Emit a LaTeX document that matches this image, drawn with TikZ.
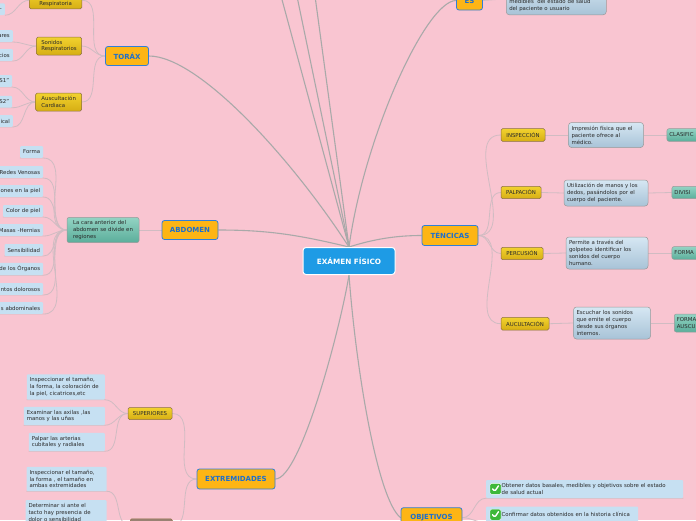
\documentclass[tikz,border=0pt]{standalone}
\usepackage{fontspec}
\setmainfont{DejaVu Sans}
\usepackage{tikz}
\usetikzlibrary{backgrounds}
\definecolor{bgpink}{HTML}{F9C5D1}
\definecolor{rootblue}{HTML}{1E9BE5}
\definecolor{topicor}{HTML}{FDB515}
\definecolor{topicbd}{HTML}{2F7FD8}
\definecolor{topictx}{HTML}{1E6FCC}
\definecolor{goldtop}{HTML}{F2D22E}
\definecolor{goldbot}{HTML}{D6AE14}
\definecolor{goldbd}{HTML}{8B6F45}
\definecolor{leafbl}{HTML}{C6E0F2}
\definecolor{notetop}{HTML}{D6E7F3}
\definecolor{notebot}{HTML}{A8C3D7}
\definecolor{tealtop}{HTML}{93D3C3}
\definecolor{tealbot}{HTML}{5BAE9B}
\definecolor{inkgray}{HTML}{2A2A2A}
\definecolor{linemain}{HTML}{A9A9A9}
\definecolor{linesub}{HTML}{D0BCC2}
\definecolor{chkgreen}{HTML}{3DB83A}
\definecolor{brownbox}{HTML}{9A8273}
\newcommand\smallfs{\fontsize{5.4}{6.9}\selectfont}
\newcommand\chkgap{\hspace*{14pt}}

\begin{document}
\begin{tikzpicture}[x=1pt,y=1pt,
  rootnode/.style={fill=rootblue,draw=white,line width=1pt,rounded corners=3pt,text=white,
    font=\bfseries\fontsize{7.3}{9}\selectfont,minimum width=92,minimum height=27,inner sep=2pt},
  topicnode/.style={fill=topicor,draw=topicbd,line width=0.8pt,rounded corners=2.5pt,text=topictx,
    font=\bfseries\fontsize{7}{8}\selectfont,minimum height=19,inner sep=2pt},
  subnode/.style={top color=goldtop,bottom color=goldbot,draw=goldbd,line width=0.5pt,
    rounded corners=1.5pt,text=inkgray,font=\smallfs,inner sep=2.5pt},
  leafnode/.style={fill=leafbl,rounded corners=1pt,text=inkgray,font=\smallfs,minimum height=11.7,inner sep=3pt},
  notenode/.style={top color=notetop,bottom color=notebot,draw=gray!80,line width=0.5pt,
    rounded corners=3pt,text=inkgray,font=\smallfs,align=left,inner sep=3pt},
  regnode/.style={top color=tealtop,bottom color=tealbot,draw=gray!80,line width=0.5pt,
    rounded corners=2pt,text=inkgray,font=\smallfs,inner sep=3pt},
  mainline/.style={draw=linemain,line width=1.1pt},
  subline/.style={draw=linesub,line width=0.8pt},
  chkicon/.style={fill=chkgreen,draw=white,line width=0.4pt,rounded corners=1.5pt,minimum size=11,inner sep=0pt,
    path picture={\draw[white,line width=1.4pt,line cap=round,line join=round]
      ([shift={(-3pt,0pt)}]path picture bounding box.center) -- ([shift={(-0.8pt,-2.6pt)}]path picture bounding box.center)
      -- ([shift={(3pt,3pt)}]path picture bounding box.center);}}]
  \useasboundingbox (0,0) rectangle (696,-520);
  \clip (0,0) rectangle (696,-520);

  % centre
  \node[rootnode] (cen) at (349,-261) {EXÁMEN FÍSICO};

  % main topics
  \node[topicnode,minimum width=43] (torax) at (127,-56) {TORÁX};
  \node[topicnode,minimum width=56] (abd) at (190,-230) {ABDOMEN};
  \node[topicnode,minimum width=78,minimum height=20] (ext) at (236,-479) {EXTREMIDADES};
  \node[topicnode,minimum width=56,minimum height=20] (tec) at (450,-235.5) {TÉNCICAS};
  \node[topicnode,minimum width=26] (es) at (469.5,-0.5) {ES};
  \node[topicnode,minimum width=61,minimum height=20] (obj) at (431.5,-517.7) {OBJETIVOS};
  \coordinate (up1) at (255,100);
  \coordinate (up2) at (277,100);
  \coordinate (up3) at (302,100);

  % torax
  \node[subnode,anchor=south west,minimum width=52.7,align=left] (resp) at (29,-9) {\phantom{X}\\Respiratoria};
  \node[subnode,minimum width=45,minimum height=18,align=left] (son) at (59,-46) {Sonidos\\Respiratorios};
  \node[subnode,minimum width=46,minimum height=18,align=left] (aus) at (58.7,-102) {Auscultación\\Cardiaca};
  \node[leafnode,anchor=east,text width=30,align=right] (t0) at (5,-9.2) {-};
  \node[leafnode,anchor=east,text width=40,align=right] (t1) at (13,-36) {ares};
  \node[leafnode,anchor=east,text width=40,align=right] (t2) at (13,-55) {cios};
  \node[leafnode,anchor=east,text width=40,align=right] (t3) at (12.3,-81) {S1"};
  \node[leafnode,anchor=east,text width=40,align=right] (t4) at (12.3,-101.7) {S2"};
  \node[leafnode,anchor=east,text width=40,align=right] (t5) at (13,-121) {ical};

  % abdomen
  \node[regnode,minimum width=72,minimum height=25,align=left] (reg) at (103,-230) {La cara anterior del\\abdomen se divide en\\regiones};
  \node[leafnode,anchor=east] (a1) at (43.3,-152) {Forma};
  \node[leafnode,anchor=east] (a2) at (43.3,-172) {Redes Venosas};
  \node[leafnode,anchor=east,text width=60,align=right] (a3) at (43.3,-191) {ones en la piel};
  \node[leafnode,anchor=east] (a4) at (43.3,-211) {Color de piel};
  \node[leafnode,anchor=east,text width=60,align=right] (a5) at (43.3,-230) {Masas -Hernias};
  \node[leafnode,anchor=east] (a6) at (43.3,-250) {Sensibilidad};
  \node[leafnode,anchor=east,text width=60,align=right] (a7) at (43.3,-269) {de los Órganos};
  \node[leafnode,anchor=east,text width=60,align=right] (a8) at (43.3,-289) {ntos dolorosos};
  \node[leafnode,anchor=east,text width=60,align=right] (a9) at (43.3,-308) {s abdominales};

  % extremidades
  \node[subnode,minimum width=44,minimum height=12] (sup) at (150,-413.5) {SUPERIORES};
  \node[draw=goldbd,fill=brownbox,line width=0.5pt,rounded corners=1.5pt,minimum width=42,minimum height=14,anchor=north west] (inf) at (130,-518.5) {};
  \node[leafnode,anchor=east,text width=72,minimum height=24,align=left] (s1) at (105,-387) {Inspeccionar el tamaño,\\la forma, la coloración de\\la piel, cicatrices,etc};
  \node[leafnode,anchor=east,text width=75,minimum height=18,align=left] (s2) at (105,-416) {Examinar las axilas ,las\\manos y las uñas};
  \node[leafnode,anchor=east,text width=70,minimum height=18,align=left] (s3) at (105,-442) {Palpar las arterias\\cubitales y radiales};
  \node[leafnode,anchor=east,text width=74,minimum height=23,align=left] (i1) at (106.7,-479) {Inspeccionar el tamaño,\\la forma , el tamaño en\\ambas extremidades};
  \node[leafnode,anchor=north east,text width=75,minimum height=24,align=left] (i2) at (106.7,-500) {Determinar si ante el\\tacto hay presencia de\\dolor o sensibilidad};

  % tecnicas
  \node[subnode,minimum width=44,minimum height=12.6] (insp) at (523,-135) {INSPECCIÓN};
  \node[subnode,minimum width=40,minimum height=12.4] (palp) at (521,-192.5) {PALPACIÓN};
  \node[subnode,minimum width=42,minimum height=12.4] (perc) at (522,-253.5) {PERCUSIÓN};
  \node[subnode,minimum width=48,minimum height=12.7] (aucu) at (525,-323.7) {AUCULTACIÓN};
  \node[notenode,text width=69,minimum height=25] (n1) at (606,-135) {Impresión física que el\\paciente ofrece al\\médico.};
  \node[notenode,text width=78,minimum height=26] (n2) at (606,-193) {Utilización de manos y los\\dedos, pasándolos por el\\cuerpo del paciente.};
  \node[notenode,text width=76,minimum height=32] (n3) at (607,-253) {Permite a través del\\golpeteo identificar los\\sonidos del cuerpo\\humano.};
  \node[notenode,text width=71,minimum height=32] (n4) at (612,-323) {Escuchar los sonidos\\que emite el cuerpo\\desde sus órganos\\internos.};
  \node[regnode,anchor=west,minimum height=12.6,text width=50,align=left,inner sep=2.5pt] (c1) at (666.7,-135) {CLASIFIC};
  \node[regnode,anchor=west,minimum height=12.4,text width=50,align=left,inner sep=2.5pt] (c2) at (671.7,-192.5) {DIVISI};
  \node[regnode,anchor=west,minimum height=12.6,text width=50,align=left,inner sep=2.5pt] (c3) at (671.7,-253) {FORMA};
  \node[regnode,anchor=west,minimum height=18,text width=50,align=left,inner sep=2.5pt] (c4) at (674,-323) {FORMA\\AUSCU};

  % es
  \node[notenode,anchor=south west,text width=94] (esn) at (506,-15) {\phantom{X}\\\phantom{X}\\medibles~ del estado de salud\\del paciente o usuario};

  % objetivos
  \node[leafnode,anchor=west,text width=194,align=left,inner xsep=1.5pt,minimum height=18] (o1) at (486,-489) {\chkgap Obtener datos basales, medibles y objetivos sobre el estado\\\chkgap de salud actual};
  \node[leafnode,anchor=west,text width=149,align=left,inner xsep=1.5pt,minimum height=16] (o2) at (486,-514.5) {\chkgap Confirmar datos obtenidos en la historia clínica};
  \node[chkicon] (k1) at (495.5,-488.8) {};
  \node[chkicon] (k2) at (495.5,-514.7) {};

  \begin{scope}[on background layer]
    \fill[bgpink] (0,0) rectangle (696,-520);
    % main branches
    \draw[mainline] (torax.east) .. controls +(50,0) and +(-57,88) .. (cen.north);
    \draw[mainline] (abd.east) .. controls +(50,0) and +(-50,12) .. (cen.north);
    \draw[mainline] (cen.north) -- (up1);
    \draw[mainline] (cen.north) -- (up2);
    \draw[mainline] (cen.north) -- (up3);
    \draw[mainline] (es.west) .. controls +(-30,0) and +(15,110) .. (cen.north);
    \draw[mainline] (tec.west) .. controls +(-25,0) and +(25,8) .. (cen.north);
    \draw[mainline] (ext.east) .. controls +(25,0) and +(-9,-55) .. (cen.south);
    \draw[mainline] (cen.south) .. controls +(7,-95) and +(-23,18) .. (obj.west);
    % torax
    \foreach \k in {resp,son,aus}
      \draw[subline] (torax.west) to[out=180,in=0] (\k.east);
    \draw[subline] (resp.west) to[out=180,in=0] (t0.south east);
    \foreach \k in {t1,t2}
      \draw[subline] (son.west) to[out=180,in=0] (\k.south east) -- (\k.south west);
    \foreach \k in {t3,t4,t5}
      \draw[subline] (aus.west) to[out=180,in=0] (\k.south east) -- (\k.south west);
    % abdomen
    \draw[subline] (abd.west) -- (reg.east);
    \foreach \k in {a1,a2,a3,a4,a5,a6,a7,a8,a9}
      \draw[subline] (reg.west) to[out=180,in=0] (\k.south east) -- (\k.south west);
    % extremidades
    \draw[subline] (ext.west) to[out=180,in=0] (sup.east);
    \draw[subline] (ext.west) to[out=180,in=0] (inf.east);
    \foreach \k in {s1,s2,s3}
      \draw[subline] (sup.west) to[out=180,in=0] (\k.south east) -- (\k.south west);
    \foreach \k in {i1,i2}
      \draw[subline] (inf.west) to[out=180,in=0] (\k.south east) -- (\k.south west);
    % tecnicas
    \foreach \g/\n/\c in {insp/n1/c1,palp/n2/c2,perc/n3/c3,aucu/n4/c4}{
      \draw[subline] (tec.east) to[out=0,in=180] (\g.west);
      \draw[subline] (\g.east) -- (\n.west);
      \draw[subline] (\n.east) -- (\c.west);
    }
    % es, objetivos
    \draw[subline] (es.east) -- (esn.west);
    \draw[subline] (obj.east) to[out=0,in=180] (o1.south west) -- (o1.south east);
    \draw[subline] (obj.east) to[out=0,in=180] (o2.south west) -- (o2.south east);
  \end{scope}
\end{tikzpicture}
\end{document}
